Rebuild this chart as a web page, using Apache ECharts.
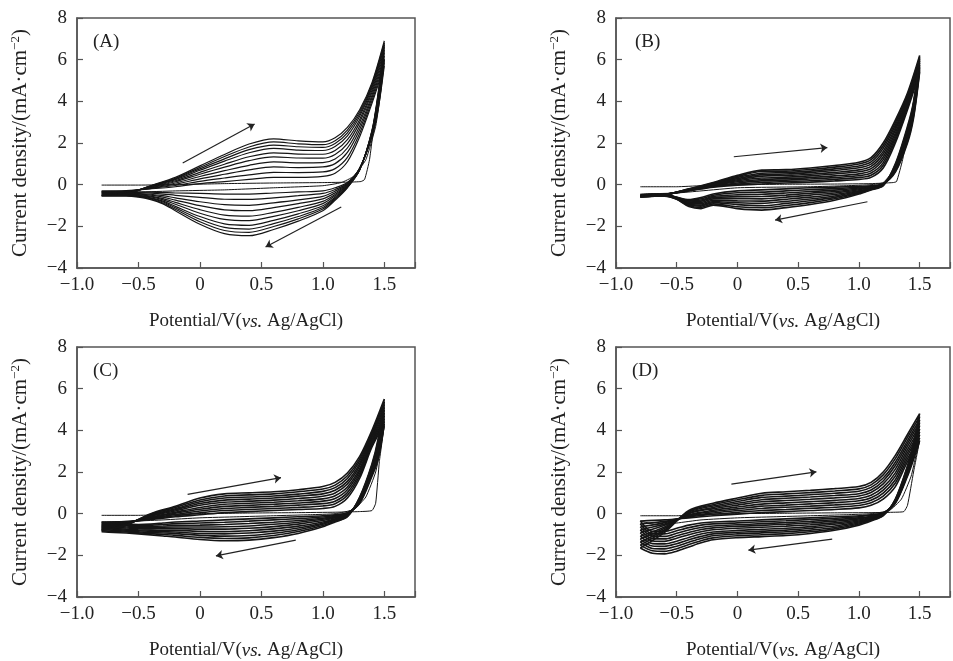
<!DOCTYPE html>
<html><head><meta charset="utf-8">
<script src="https://cdn.jsdelivr.net/npm/echarts@6/dist/echarts.min.js"></script>
<style>html,body{margin:0;padding:0;background:#fff}#c{width:953px;height:661px}</style>
</head><body><div id="c"></div>
<script>
// Potential (V vs. Ag/AgCl): forward sweep then reverse sweep
const potential = [-0.8,-0.6,-0.4,-0.2,0,0.2,0.4,0.6,0.8,1.0,1.1,1.2,1.3,1.4,1.5,
  1.45,1.4,1.3,1.2,1.1,1.0,0.8,0.6,0.4,0.2,0,-0.2,-0.3,-0.4,-0.5,-0.6,-0.7,-0.8];

// First cycle (nucleation loop) per panel
const firstPotA = [-0.8,-0.5,-0.2,0.2,0.6,1.0,1.2,1.31,1.34,1.38,1.43,1.5,1.47,1.43,1.35,1.25,1.15,1.0,0.6,0.2,-0.2,-0.5,-0.8];
const firstCurA = [-0.02,-0.02,0.0,0.05,0.08,0.1,0.12,0.15,0.25,1.2,3.5,6.0,4.4,2.8,1.2,0.4,0.1,-0.05,-0.15,-0.25,-0.3,-0.35,-0.35];
const firstPotB = [-0.8,-0.5,-0.3,0,0.4,0.8,1.1,1.28,1.31,1.36,1.42,1.5,1.45,1.4,1.3,1.2,1.1,0.9,0.6,0.3,0,-0.3,-0.5,-0.8];
const firstCurB = [-0.1,-0.1,-0.05,0.0,0.02,0.03,0.05,0.1,0.15,1.2,3.0,5.6,3.4,2.2,0.8,0.1,0.0,-0.05,-0.1,-0.12,-0.15,-0.3,-0.4,-0.45];
const firstPotC = [-0.8,-0.5,-0.3,0,0.4,0.8,1.1,1.3,1.4,1.43,1.46,1.5,1.47,1.43,1.35,1.25,1.1,0.9,0.6,0.3,0,-0.3,-0.5,-0.8];
const firstCurC = [-0.08,-0.08,-0.05,0.0,0.03,0.05,0.07,0.1,0.15,0.5,2.5,4.2,3.2,2.0,0.8,0.2,0.0,-0.05,-0.1,-0.15,-0.2,-0.3,-0.35,-0.4];
const firstPotD = [-0.8,-0.5,-0.3,0,0.4,0.8,1.1,1.3,1.37,1.4,1.45,1.5,1.47,1.43,1.35,1.25,1.1,0.9,0.6,0.3,0,-0.3,-0.5,-0.65,-0.8];
const firstCurD = [-0.1,-0.1,-0.05,0.0,0.02,0.04,0.05,0.07,0.1,0.4,2.0,3.5,2.8,1.8,0.7,0.15,0.0,-0.05,-0.1,-0.15,-0.2,-0.3,-0.45,-0.55,-0.35];

// Later cycles, current density (mA/cm2) at each potential above
const cyclesA = [
 [-0.3,-0.28,-0.2,-0.1,0.05,0.15,0.25,0.35,0.35,0.4,0.55,1.1,2.3,3.9,5.7, 3.6,2.3,0.8,0.1,-0.15,-0.3,-0.35,-0.4,-0.45,-0.45,-0.42,-0.4,-0.38,-0.36,-0.35,-0.33,-0.32,-0.3],
 [-0.33,-0.3,-0.18,-0.04,0.16,0.32,0.47,0.59,0.58,0.61,0.77,1.31,2.47,4.03,5.86, 3.7,2.34,0.79,0.07,-0.23,-0.42,-0.53,-0.63,-0.71,-0.7,-0.61,-0.51,-0.45,-0.41,-0.38,-0.36,-0.35,-0.33],
 [-0.37,-0.33,-0.16,0.02,0.28,0.5,0.71,0.85,0.82,0.85,1.01,1.55,2.65,4.17,6.02, 3.82,2.38,0.77,0.03,-0.31,-0.56,-0.73,-0.87,-0.99,-0.96,-0.82,-0.63,-0.53,-0.46,-0.42,-0.39,-0.38,-0.37],
 [-0.4,-0.35,-0.14,0.08,0.39,0.67,0.93,1.09,1.05,1.06,1.23,1.76,2.82,4.3,6.18, 3.92,2.42,0.76,0,-0.39,-0.68,-0.91,-1.1,-1.25,-1.21,-1.01,-0.74,-0.6,-0.5,-0.45,-0.42,-0.41,-0.4],
 [-0.43,-0.37,-0.12,0.14,0.5,0.84,1.15,1.33,1.28,1.27,1.45,1.97,2.99,4.43,6.34, 4.02,2.46,0.75,-0.03,-0.47,-0.8,-1.09,-1.33,-1.51,-1.46,-1.2,-0.85,-0.67,-0.55,-0.48,-0.45,-0.44,-0.43],
 [-0.46,-0.39,-0.1,0.19,0.59,0.98,1.34,1.53,1.47,1.46,1.64,2.16,3.13,4.54,6.47, 4.11,2.49,0.74,-0.06,-0.53,-0.91,-1.25,-1.52,-1.73,-1.67,-1.37,-0.94,-0.73,-0.59,-0.51,-0.47,-0.47,-0.46],
 [-0.49,-0.41,-0.09,0.24,0.69,1.13,1.53,1.74,1.66,1.64,1.83,2.34,3.28,4.65,6.6, 4.2,2.53,0.73,-0.09,-0.6,-1.01,-1.4,-1.71,-1.95,-1.88,-1.53,-1.04,-0.79,-0.63,-0.54,-0.5,-0.49,-0.49],
 [-0.51,-0.42,-0.07,0.28,0.76,1.24,1.68,1.9,1.82,1.79,1.98,2.49,3.39,4.74,6.71, 4.27,2.55,0.72,-0.11,-0.65,-1.1,-1.53,-1.87,-2.13,-2.05,-1.66,-1.11,-0.83,-0.66,-0.56,-0.51,-0.51,-0.51],
 [-0.53,-0.44,-0.06,0.31,0.83,1.35,1.81,2.05,1.96,1.92,2.11,2.62,3.5,4.82,6.8, 4.34,2.58,0.71,-0.13,-0.7,-1.17,-1.64,-2.01,-2.29,-2.2,-1.78,-1.18,-0.88,-0.69,-0.58,-0.53,-0.53,-0.53],
 [-0.55,-0.45,-0.05,0.35,0.9,1.45,1.95,2.2,2.1,2.05,2.25,2.75,3.6,4.9,6.9, 4.4,2.6,0.7,-0.15,-0.75,-1.25,-1.75,-2.15,-2.45,-2.35,-1.9,-1.25,-0.92,-0.72,-0.6,-0.55,-0.55,-0.55]
];
const cyclesB = [
 [-0.5,-0.45,-0.3,-0.12,-0.02,0.03,0.08,0.12,0.18,0.25,0.35,0.8,2.0,3.6,5.4, 3.2,2.0,0.6,0.05,-0.05,-0.08,-0.12,-0.15,-0.2,-0.25,-0.3,-0.45,-0.62,-0.72,-0.6,-0.45,-0.45,-0.5],
 [-0.51,-0.46,-0.29,-0.1,0.03,0.1,0.15,0.19,0.26,0.34,0.45,0.93,2.12,3.69,5.49, 3.29,2.09,0.64,0.04,-0.07,-0.12,-0.19,-0.24,-0.3,-0.36,-0.39,-0.51,-0.68,-0.76,-0.61,-0.46,-0.46,-0.51],
 [-0.52,-0.46,-0.28,-0.07,0.08,0.18,0.22,0.27,0.34,0.43,0.56,1.06,2.24,3.78,5.58, 3.38,2.18,0.69,0.03,-0.09,-0.16,-0.26,-0.33,-0.4,-0.46,-0.49,-0.57,-0.74,-0.79,-0.62,-0.47,-0.47,-0.52],
 [-0.53,-0.47,-0.27,-0.05,0.14,0.25,0.29,0.34,0.42,0.52,0.66,1.2,2.36,3.86,5.66, 3.46,2.26,0.73,0.02,-0.12,-0.2,-0.33,-0.41,-0.5,-0.57,-0.58,-0.62,-0.79,-0.83,-0.63,-0.48,-0.48,-0.53],
 [-0.54,-0.47,-0.26,-0.02,0.19,0.32,0.36,0.42,0.51,0.62,0.77,1.33,2.48,3.95,5.75, 3.55,2.35,0.78,0.01,-0.14,-0.24,-0.4,-0.5,-0.6,-0.68,-0.67,-0.68,-0.85,-0.87,-0.64,-0.49,-0.49,-0.54],
 [-0.56,-0.48,-0.24,0.0,0.24,0.41,0.44,0.5,0.59,0.71,0.88,1.47,2.62,4.05,5.85, 3.65,2.45,0.82,0,-0.16,-0.29,-0.47,-0.6,-0.7,-0.79,-0.78,-0.75,-0.92,-0.9,-0.66,-0.51,-0.51,-0.56],
 [-0.57,-0.48,-0.23,0.03,0.29,0.48,0.51,0.58,0.68,0.81,0.99,1.6,2.74,4.14,5.94, 3.74,2.54,0.87,-0.02,-0.18,-0.33,-0.54,-0.69,-0.8,-0.9,-0.87,-0.81,-0.98,-0.94,-0.67,-0.52,-0.52,-0.57],
 [-0.58,-0.49,-0.22,0.05,0.35,0.55,0.58,0.65,0.76,0.9,1.09,1.74,2.86,4.22,6.02, 3.82,2.62,0.91,-0.03,-0.21,-0.37,-0.61,-0.77,-0.9,-1.01,-0.96,-0.86,-1.03,-0.98,-0.68,-0.53,-0.53,-0.58],
 [-0.59,-0.49,-0.21,0.08,0.4,0.63,0.65,0.73,0.84,0.99,1.2,1.87,2.98,4.31,6.11, 3.91,2.71,0.96,-0.04,-0.23,-0.41,-0.68,-0.86,-1.0,-1.11,-1.06,-0.92,-1.09,-1.01,-0.69,-0.54,-0.54,-0.59],
 [-0.6,-0.5,-0.2,0.1,0.45,0.7,0.72,0.8,0.92,1.08,1.3,2.0,3.1,4.4,6.2, 4.0,2.8,1.0,-0.05,-0.25,-0.45,-0.75,-0.95,-1.1,-1.22,-1.15,-0.98,-1.15,-1.05,-0.7,-0.55,-0.55,-0.6]
];
const cyclesC = [
 [-0.4,-0.38,-0.28,-0.15,-0.05,0.05,0.1,0.15,0.2,0.25,0.35,0.75,1.7,3.2,4.3, 2.6,1.8,0.5,0.05,-0.05,-0.1,-0.15,-0.2,-0.25,-0.3,-0.35,-0.4,-0.45,-0.5,-0.52,-0.5,-0.45,-0.4],
 [-0.44,-0.4,-0.25,-0.1,0.04,0.15,0.2,0.25,0.3,0.37,0.48,0.88,1.82,3.29,4.43, 2.71,1.87,0.53,0.03,-0.09,-0.16,-0.24,-0.3,-0.36,-0.41,-0.45,-0.48,-0.52,-0.56,-0.57,-0.55,-0.5,-0.45],
 [-0.49,-0.42,-0.22,-0.04,0.13,0.25,0.3,0.35,0.41,0.48,0.6,1.01,1.93,3.38,4.56, 2.82,1.93,0.57,0.01,-0.13,-0.22,-0.33,-0.41,-0.47,-0.52,-0.55,-0.56,-0.59,-0.61,-0.62,-0.59,-0.55,-0.5],
 [-0.53,-0.44,-0.19,0.02,0.21,0.35,0.4,0.45,0.51,0.6,0.73,1.15,2.05,3.46,4.7, 2.93,2.0,0.6,-0.02,-0.17,-0.27,-0.41,-0.51,-0.59,-0.63,-0.64,-0.64,-0.65,-0.67,-0.67,-0.64,-0.6,-0.56],
 [-0.58,-0.45,-0.16,0.07,0.3,0.45,0.5,0.55,0.62,0.71,0.86,1.28,2.16,3.55,4.83, 3.04,2.06,0.63,-0.04,-0.2,-0.33,-0.5,-0.62,-0.7,-0.74,-0.74,-0.72,-0.72,-0.73,-0.72,-0.69,-0.65,-0.61],
 [-0.62,-0.48,-0.12,0.13,0.4,0.55,0.6,0.65,0.73,0.84,0.99,1.42,2.29,3.65,4.97, 3.16,2.14,0.67,-0.06,-0.25,-0.4,-0.6,-0.73,-0.82,-0.86,-0.85,-0.8,-0.8,-0.79,-0.77,-0.74,-0.7,-0.66],
 [-0.67,-0.49,-0.09,0.19,0.49,0.65,0.7,0.75,0.84,0.95,1.12,1.55,2.4,3.74,5.1, 3.27,2.2,0.7,-0.08,-0.28,-0.46,-0.69,-0.84,-0.93,-0.97,-0.95,-0.88,-0.87,-0.85,-0.82,-0.79,-0.75,-0.71],
 [-0.71,-0.51,-0.06,0.24,0.57,0.75,0.8,0.85,0.94,1.07,1.25,1.69,2.52,3.82,5.24, 3.38,2.27,0.73,-0.11,-0.32,-0.51,-0.77,-0.94,-1.05,-1.08,-1.04,-0.96,-0.93,-0.91,-0.87,-0.84,-0.8,-0.77],
 [-0.76,-0.53,-0.03,0.3,0.66,0.85,0.9,0.95,1.05,1.18,1.37,1.82,2.63,3.91,5.37, 3.49,2.33,0.77,-0.13,-0.36,-0.57,-0.86,-1.05,-1.16,-1.19,-1.14,-1.04,-1.0,-0.96,-0.92,-0.88,-0.85,-0.82],
 [-0.8,-0.55,0.0,0.35,0.75,0.95,1.0,1.05,1.15,1.3,1.5,1.95,2.75,4.0,5.5, 3.6,2.4,0.8,-0.15,-0.4,-0.63,-0.95,-1.15,-1.27,-1.3,-1.24,-1.12,-1.07,-1.02,-0.97,-0.93,-0.9,-0.87]
];
const cyclesD = [
 [-0.35,-0.3,-0.2,-0.1,-0.02,0.05,0.1,0.15,0.2,0.28,0.4,0.7,1.3,2.5,3.5, 2.6,1.8,0.5,0.05,-0.05,-0.1,-0.15,-0.2,-0.25,-0.3,-0.35,-0.4,-0.45,-0.55,-0.7,-0.85,-0.85,-0.35],
 [-0.49,-0.37,-0.16,-0.03,0.06,0.15,0.2,0.26,0.31,0.39,0.52,0.84,1.47,2.64,3.64, 2.69,1.86,0.52,0.03,-0.08,-0.15,-0.22,-0.28,-0.34,-0.39,-0.44,-0.49,-0.55,-0.67,-0.82,-0.97,-0.97,-0.49],
 [-0.64,-0.43,-0.12,0.03,0.15,0.25,0.31,0.36,0.42,0.5,0.64,0.99,1.63,2.79,3.79, 2.78,1.91,0.54,0.02,-0.12,-0.2,-0.29,-0.37,-0.43,-0.48,-0.53,-0.59,-0.66,-0.78,-0.94,-1.09,-1.08,-0.64],
 [-0.78,-0.5,-0.08,0.1,0.23,0.36,0.41,0.47,0.53,0.62,0.76,1.13,1.8,2.93,3.93, 2.86,1.97,0.57,0.0,-0.15,-0.25,-0.36,-0.45,-0.51,-0.56,-0.61,-0.68,-0.76,-0.9,-1.06,-1.21,-1.2,-0.78],
 [-0.92,-0.56,-0.05,0.16,0.32,0.46,0.52,0.58,0.64,0.73,0.88,1.27,1.96,3.07,4.07, 2.95,2.02,0.59,-0.02,-0.18,-0.3,-0.44,-0.53,-0.6,-0.65,-0.7,-0.77,-0.87,-1.01,-1.18,-1.33,-1.31,-0.92],
 [-1.08,-0.64,0.0,0.24,0.41,0.57,0.63,0.69,0.76,0.85,1.02,1.43,2.14,3.23,4.23, 3.05,2.08,0.61,-0.03,-0.22,-0.35,-0.51,-0.62,-0.7,-0.75,-0.8,-0.88,-0.98,-1.14,-1.32,-1.45,-1.44,-1.08],
 [-1.22,-0.7,0.03,0.3,0.5,0.67,0.74,0.8,0.87,0.96,1.14,1.57,2.31,3.37,4.37, 3.14,2.14,0.63,-0.05,-0.25,-0.4,-0.59,-0.7,-0.79,-0.84,-0.89,-0.97,-1.09,-1.25,-1.44,-1.57,-1.55,-1.22],
 [-1.36,-0.77,0.07,0.37,0.58,0.78,0.84,0.91,0.98,1.08,1.26,1.71,2.47,3.51,4.51, 3.22,2.19,0.66,-0.07,-0.28,-0.45,-0.66,-0.79,-0.87,-0.92,-0.97,-1.06,-1.19,-1.37,-1.56,-1.69,-1.67,-1.36],
 [-1.51,-0.83,0.11,0.43,0.67,0.88,0.95,1.01,1.09,1.19,1.38,1.86,2.64,3.66,4.66, 3.31,2.25,0.68,-0.08,-0.32,-0.5,-0.73,-0.87,-0.96,-1.01,-1.06,-1.16,-1.3,-1.48,-1.68,-1.81,-1.78,-1.51],
 [-1.65,-0.9,0.15,0.5,0.75,0.98,1.05,1.12,1.2,1.3,1.5,2.0,2.8,3.8,4.8, 3.4,2.3,0.7,-0.1,-0.35,-0.55,-0.8,-0.95,-1.05,-1.1,-1.15,-1.25,-1.4,-1.6,-1.8,-1.93,-1.9,-1.65]
];

// Sweep-direction arrows: [x1, y1, x2, y2]
const arrowsA = [[-0.14,1.04,0.445,2.91],[1.15,-1.07,0.534,-2.99]];
const arrowsB = [[-0.03,1.34,0.74,1.78],[1.07,-0.82,0.31,-1.70]];
const arrowsC = [[-0.10,0.93,0.66,1.73],[0.78,-1.27,0.13,-2.03]];
const arrowsD = [[-0.05,1.42,0.65,2.01],[0.78,-1.22,0.09,-1.75]];

const panelLabels = ['(A)','(B)','(C)','(D)'];
const xTickValues = [-1,-0.5,0,0.5,1,1.5];
const xTickLabels = ['\u22121.0','\u22120.5','0','0.5','1.0','1.5'];
const yTickValues = [-4,-2,0,2,4,6,8];
const yTickLabels = ['\u22124','\u22122','0','2','4','6','8'];

const FONT = "'Liberation Serif','Times New Roman',serif";
const grids = [
  {left:77, top:18, width:338, height:250},
  {left:616, top:18, width:338, height:250},
  {left:77, top:347, width:338, height:250},
  {left:616, top:347, width:338, height:250}
];
const labelPos = [[88,28],[630,28],[88,357],[627,357]];

function fmt(vals, labels){ return v => { const i = vals.findIndex(t => Math.abs(t-v) < 1e-6); return i<0 ? '' : labels[i]; }; }

const option = {animation:false, backgroundColor:'#fff',
  title: panelLabels.map((t,i)=>({text:t, left:labelPos[i][0], top:labelPos[i][1], textStyle:{fontFamily:FONT, fontSize:19, fontWeight:'normal', color:'#222'}})),
  grid: grids.map(g=>Object.assign({show:true, borderColor:'#555', borderWidth:1.5, backgroundColor:'transparent'}, g)),
  xAxis: grids.map((g,i)=>({type:'value', gridIndex:i, min:-1, max:1.75, interval:0.5,
    name:'{a|Potential/V(}{b|vs.}{a| Ag/AgCl)}', nameLocation:'middle', nameGap:44,
    nameTextStyle:{rich:{a:{fontFamily:FONT, fontSize:19, color:'#222'}, b:{fontFamily:FONT, fontSize:19, fontStyle:'italic', color:'#222'}}},
    axisLine:{onZero:false, lineStyle:{color:'#555', width:1.5}}, axisTick:{inside:true, length:6, lineStyle:{color:'#555', width:1.2}},
    axisLabel:{fontFamily:FONT, fontSize:19, color:'#222', margin:8, formatter:fmt(xTickValues,xTickLabels)}, splitLine:{show:false}})),
  yAxis: grids.map((g,i)=>({type:'value', gridIndex:i, min:-4, max:8, interval:2,
    name:'{a|Current density/(mA\u00b7cm}{s|\u22122}{a|)}', nameLocation:'middle', nameGap:45,
    nameTextStyle:{rich:{a:{fontFamily:FONT, fontSize:21, color:'#222'}, s:{fontFamily:FONT, fontSize:13, color:'#222', verticalAlign:'top', padding:[0,0,10,0]}}},
    axisLine:{onZero:false, lineStyle:{color:'#555', width:1.5}}, axisTick:{inside:true, length:6, lineStyle:{color:'#555', width:1.2}},
    axisLabel:{fontFamily:FONT, fontSize:19, color:'#222', margin:10, formatter:fmt(yTickValues,yTickLabels)}, splitLine:{show:false}})),
  series: []
};

function addCV(rows, pot, gi, width, smooth){
  rows.forEach(r => option.series.push({type:'line', xAxisIndex:gi, yAxisIndex:gi, silent:true, showSymbol:false, smooth:smooth,
    data: pot.map((p,i)=>[p, r[i]]), lineStyle:{color:'#151515', width:width}}));
}
function addArrows(arr, gi){
  option.series.push({type:'lines', coordinateSystem:'cartesian2d', xAxisIndex:gi, yAxisIndex:gi, silent:true,
    symbol:['none','arrow'], symbolSize:7, lineStyle:{color:'#222', width:1.2, opacity:1},
    data: arr.map(a=>({coords:[[a[0],a[1]],[a[2],a[3]]]}))});
}
addCV([firstCurA], firstPotA, 0, 1, 0.15);
addCV([firstCurB], firstPotB, 1, 1, 0.15);
addCV([firstCurC], firstPotC, 2, 1, 0.15);
addCV([firstCurD], firstPotD, 3, 1, 0.15);
addCV(cyclesA, potential, 0, 1.2, 0.3);
addCV(cyclesB, potential, 1, 1.6, 0.3);
addCV(cyclesC, potential, 2, 1.6, 0.3);
addCV(cyclesD, potential, 3, 1.6, 0.3);
addArrows(arrowsA,0); addArrows(arrowsB,1); addArrows(arrowsC,2); addArrows(arrowsD,3);

echarts.init(document.getElementById('c'), null, {renderer:'canvas'}).setOption(option);
</script></body></html>
